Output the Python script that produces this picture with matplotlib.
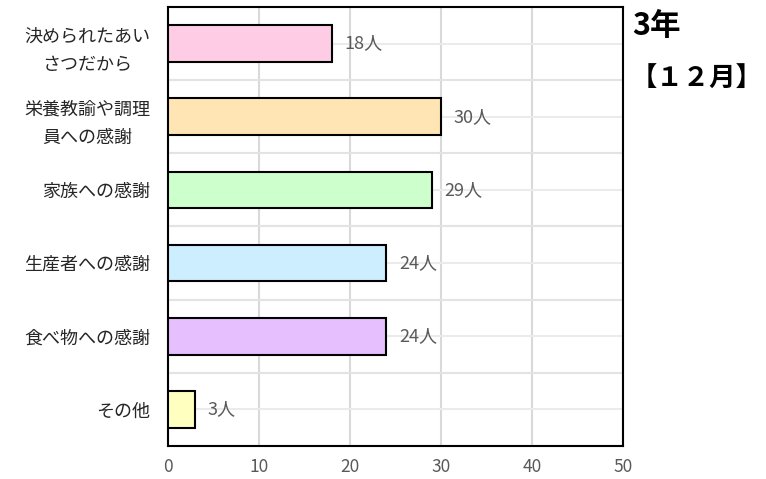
import matplotlib.pyplot as plt
import numpy as np

plt.rcParams['font.family'] = ['Noto Sans CJK JP', 'DejaVu Sans']

# data
categories = ["決められたあい\nさつだから", "栄養教諭や調理\n員への感謝", "家族への感謝",
              "生産者への感謝", "食べ物への感謝", "その他"]
counts = [18, 30, 29, 24, 24, 3]
colors = ["#FFCCE6", "#FFE5B3", "#CCFFCC", "#CCEEFF", "#E6BFFF", "#FFFFBF"]
xticks = [0, 10, 20, 30, 40, 50]

fig = plt.figure(figsize=(7.66, 4.79), dpi=100)
ax = fig.add_axes([0.2193, 0.0689, 0.594, 0.9165])

y = np.arange(len(categories))
ax.barh(y, counts, height=0.5, color=colors, edgecolor="black", linewidth=1.5, zorder=3)

for yi, v in zip(y, counts):
    ax.annotate(f"{v}人", (v, yi), xytext=(9, 0), textcoords="offset points",
                va="center", ha="left", fontsize=13, color="#595959", zorder=4)

ax.set_xlim(0, 50)
ax.set_ylim(len(categories) - 0.5, -0.5)
ax.set_xticks(xticks)
ax.set_yticks(y)
ax.set_yticklabels(categories, multialignment="center", linespacing=1.75)
ax.set_yticks(np.arange(len(categories) + 1) - 0.5, minor=True)

ax.tick_params(axis="x", length=0, pad=9, labelsize=12.5, labelcolor="#595959")
ax.tick_params(axis="y", which="both", length=0, pad=13, labelsize=13, labelcolor="#262626")

ax.grid(axis="x", color="#D9D9D9", linewidth=1.5, zorder=0)
ax.grid(axis="y", which="major", color="#EBEBEB", linewidth=1.5, zorder=0)
ax.grid(axis="y", which="minor", color="#E3E3E3", linewidth=1.5, zorder=0)

for s in ax.spines.values():
    s.set_linewidth(1.5)
    s.set_color("black")

fig.text(0.825, 0.946, "3年", fontsize=22, fontweight="bold", va="center", ha="left")
fig.text(0.909, 0.835, "【１２月】", fontsize=19, fontweight="bold", va="center", ha="center")

fig.savefig("out.png", dpi=100)
